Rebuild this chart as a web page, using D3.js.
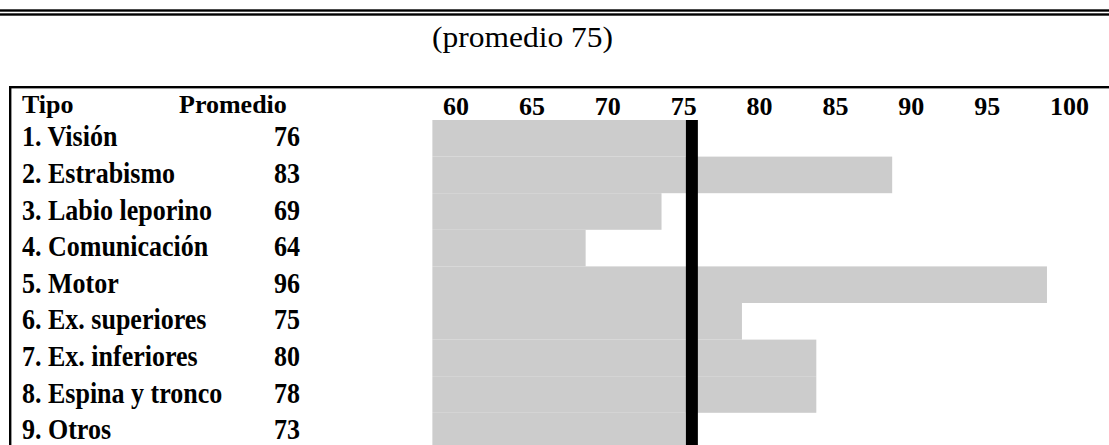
<!DOCTYPE html>
<html><head><meta charset="utf-8">
<script src="https://cdn.jsdelivr.net/npm/d3@7"></script>
<style>
html,body{margin:0;padding:0;background:#fff;}
svg{display:block;}
text{font-family:"Liberation Serif","Times New Roman",serif;}
</style></head>
<body>
<script>
// ---- data ----
const tipos = ["1. Visión","2. Estrabismo","3. Labio leporino","4. Comunicación","5. Motor",
               "6. Ex. superiores","7. Ex. inferiores","8. Espina y tronco","9. Otros"];
const promedios = [76, 83, 69, 64, 96, 75, 80, 78, 73];          // printed values
const barras = [76, 89.6, 74.4, 69.4, 99.8, 79.7, 84.6, 84.6, 76]; // bar ends as drawn
const barraInicio = 59.3;
const ticks = [60, 65, 70, 75, 80, 85, 90, 95, 100];
const promedioGeneral = 75;
const lineaPromedio = 76.4; // position of the black reference line as drawn
const titulo = "(promedio " + promedioGeneral + ")";

const W = 1109, H = 445;
const svg = d3.select("body").append("svg").attr("width", W).attr("height", H);

const x = d3.scaleLinear().domain([60, 100]).range([443, 1050]);
const y = d3.scaleBand().domain(tipos).range([120, 120 + 9 * 36.6]).padding(0);

// top double rule
svg.append("rect").attr("x", 0).attr("y", 9.3).attr("width", W).attr("height", 2.4).attr("fill", "#000");
svg.append("rect").attr("x", 0).attr("y", 13.3).attr("width", W).attr("height", 2.4).attr("fill", "#000");

// title
svg.append("text").attr("x", 432).attr("y", 47).attr("font-size", 29)
  .attr("textLength", 181).attr("lengthAdjust", "spacingAndGlyphs")
  .attr("fill", "#000").text(titulo);

// table frame
svg.append("rect").attr("x", 9).attr("y", 86).attr("width", W - 9).attr("height", 2.4).attr("fill", "#000");
svg.append("rect").attr("x", 9).attr("y", 86).attr("width", 2.4).attr("height", H - 86).attr("fill", "#000");

// header
svg.append("text").attr("x", 22).attr("y", 113).attr("font-size", 26).attr("font-weight", "bold").text("Tipo");
svg.append("text").attr("x", 179).attr("y", 113).attr("font-size", 26).attr("font-weight", "bold").text("Promedio");

// tick labels
svg.append("g").selectAll("text").data(ticks).join("text")
  .attr("x", d => x(d)).attr("y", 115).attr("font-size", 26).attr("font-weight", "bold")
  .text(d => d);

// bars
svg.append("g").selectAll("rect").data(tipos).join("rect")
  .attr("x", x(barraInicio))
  .attr("y", d => y(d))
  .attr("width", (d, i) => x(barras[i]) - x(barraInicio))
  .attr("height", y.bandwidth())
  .attr("fill", "#cccccc");

// reference line
svg.append("rect").attr("x", x(lineaPromedio) - 6).attr("y", 120).attr("width", 12).attr("height", H - 120).attr("fill", "#000");

// row labels (slightly tall glyphs as in the reference)
const rowY = d => y(d) + y.bandwidth() / 2 + 8;
svg.append("g").selectAll("text").data(tipos).join("text")
  .attr("transform", d => `translate(22,${rowY(d)}) scale(1,1.13)`)
  .attr("font-size", 26).attr("font-weight", "bold").text(d => d);
svg.append("g").selectAll("text").data(promedios).join("text")
  .attr("text-anchor", "middle")
  .attr("transform", (d, i) => `translate(287,${rowY(tipos[i])}) scale(1,1.13)`)
  .attr("font-size", 26).attr("font-weight", "bold").text(d => d);
</script>
</body></html>
